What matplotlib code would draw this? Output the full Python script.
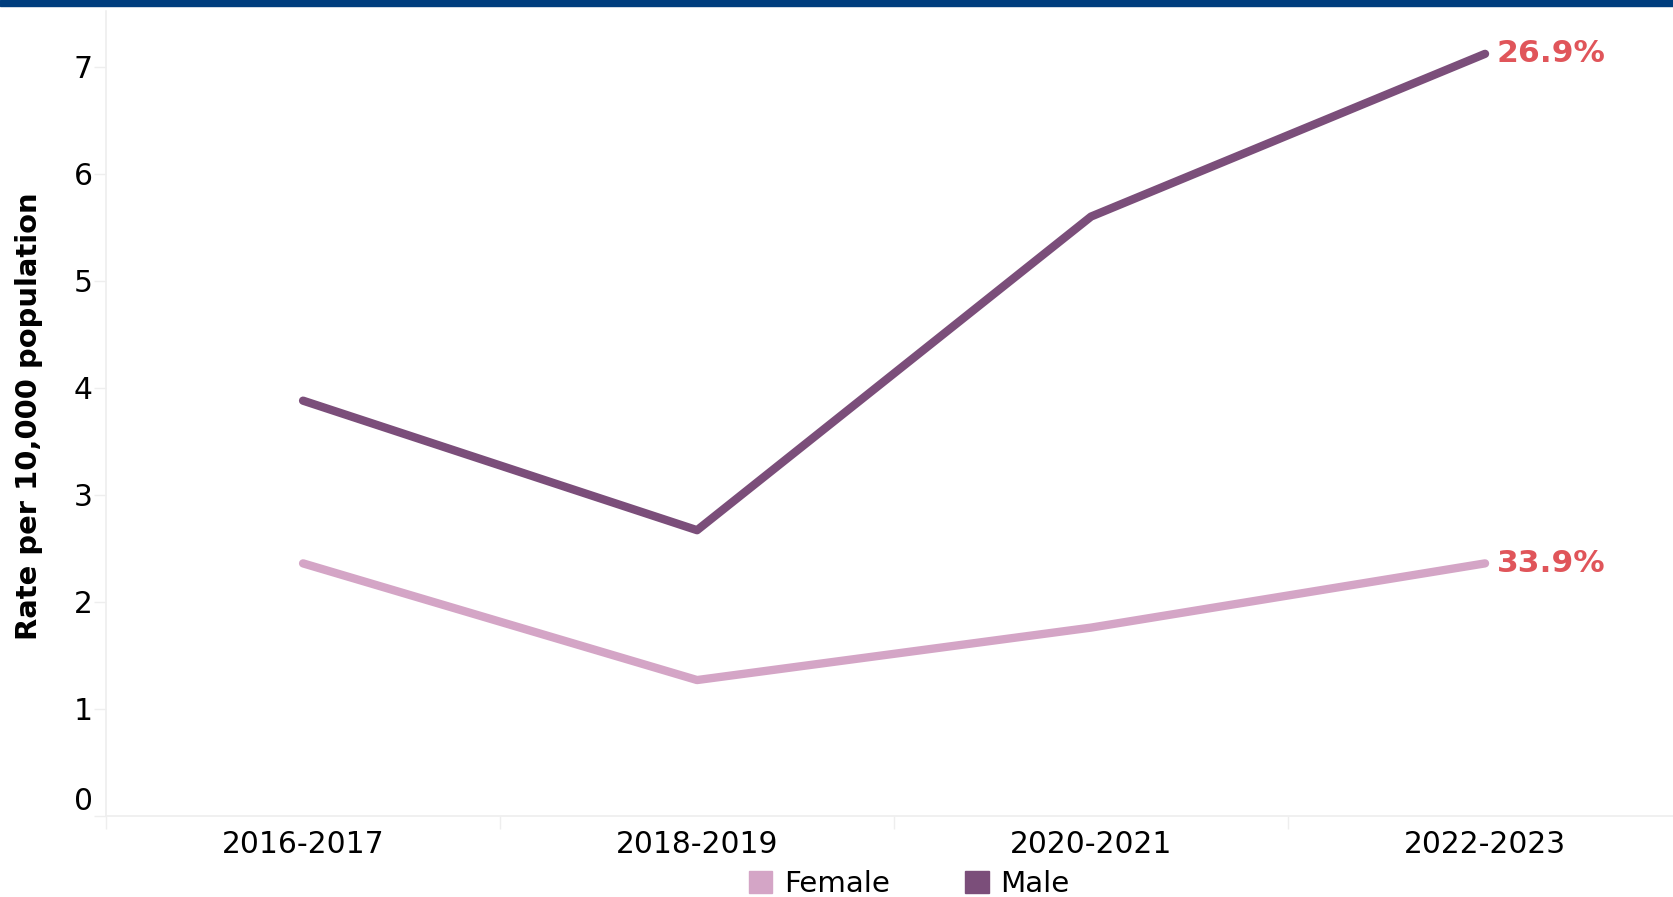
import matplotlib
matplotlib.use("Agg")
import matplotlib.pyplot as plt
from matplotlib.patches import Patch
from matplotlib.transforms import ScaledTranslation

# data
periods = ["2016-2017", "2018-2019", "2020-2021", "2022-2023"]
female = [2.36, 1.27, 1.76, 2.36]
male = [3.88, 2.67, 5.60, 7.12]
female_change = "33.9%"
male_change = "26.9%"

FEMALE_COL = "#d4a5c6"
MALE_COL = "#7b4e7a"
LABEL_COL = "#e0555a"
AXIS_COL = "#eeeeee"

plt.rcParams["font.family"] = ["DejaVu Sans"]

fig = plt.figure(figsize=(16.73, 8.97), dpi=100)
ax = fig.add_axes([0.0634, 0.0903, 0.942, 0.8974])

# top banner
fig.add_artist(plt.Rectangle((0, 0.9933), 1, 0.0067, transform=fig.transFigure,
                             color="#003e7e", clip_on=False))

x = range(len(periods))
ax.plot(x, female, color=FEMALE_COL, lw=6, solid_capstyle="round")
ax.plot(x, male, color=MALE_COL, lw=6, solid_capstyle="round")

ax.text(x[-1] + 0.03, female[-1], female_change, color=LABEL_COL, fontsize=22.6,
        fontweight="bold", va="center", ha="left")
ax.text(x[-1] + 0.03, male[-1], male_change, color=LABEL_COL, fontsize=22.6,
        fontweight="bold", va="center", ha="left")

ax.set_xlim(-0.5, 3.5)
ax.set_ylim(0, 7.52)

# categorical ticks at band edges, labels at centres
ax.set_xticks([-0.5, 0.5, 1.5, 2.5])
ax.set_xticklabels([])
ax.set_xticks(list(x), minor=True)
ax.set_xticklabels(periods, minor=True, fontsize=21.4)
ax.tick_params(axis="x", which="major", length=9, color=AXIS_COL, width=1)
ax.tick_params(axis="x", which="minor", length=0, pad=10)

ax.set_yticks(range(0, 8))
ax.set_yticklabels([str(i) for i in range(0, 8)], fontsize=21.4)
ax.tick_params(axis="y", length=9, color=AXIS_COL, width=1, pad=0.5)
# zero label sits a bit above its tick
zero = ax.get_yticklabels()[0]
zero.set_transform(zero.get_transform() + ScaledTranslation(0, 18 / 100, fig.dpi_scale_trans))

for side in ["top", "right"]:
    ax.spines[side].set_visible(False)
for side in ["left", "bottom"]:
    ax.spines[side].set_color(AXIS_COL)
    ax.spines[side].set_linewidth(1.2)

fig.text(0.0173, 0.5365, "Rate per 10,000 population", rotation=90, fontsize=20.9,
         fontweight="bold", va="center", ha="center")

handles = [Patch(color=FEMALE_COL, label="Female"), Patch(color=MALE_COL, label="Male")]
fig.legend(handles=handles, loc="center", bbox_to_anchor=(0.5435, 0.0143), ncol=2,
           frameon=False, fontsize=21.2, handlelength=0.8, handleheight=0.8,
           handletextpad=0.4, columnspacing=2.55, borderpad=0)

fig.savefig("out.png", dpi=100, facecolor="white")
